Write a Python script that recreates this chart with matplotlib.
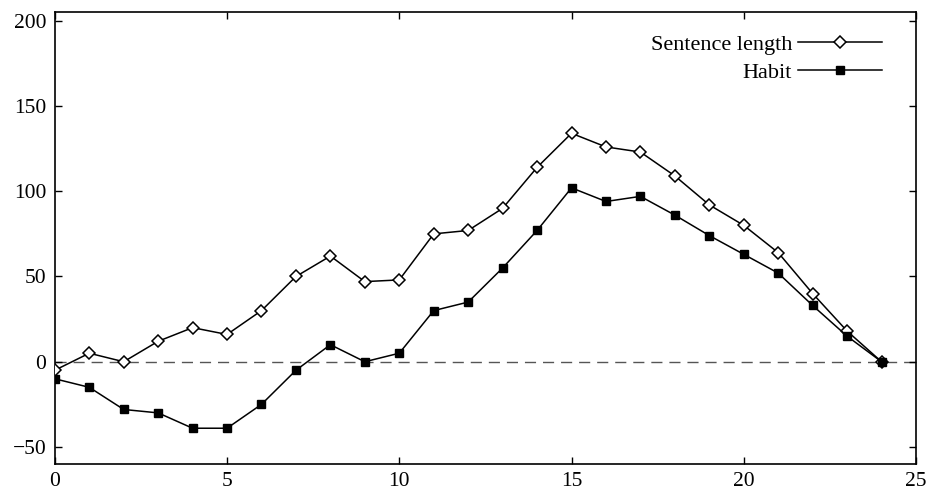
# -*- coding: utf-8 -*-

# load packages =============================================
import numpy as np
import matplotlib
matplotlib.use('Agg')
import matplotlib.pyplot as plt

# data =========================================================
x = np.arange(0, 25)
sentence_length = [-5, 5, 0, 12, 20, 16, 30, 50, 62, 47, 48, 75, 77, 90, 114,
                   134, 126, 123, 109, 92, 80, 64, 40, 18, 0]
habit = [-10, -15, -28, -30, -39, -39, -25, -5, 10, 0, 5, 30, 35, 55, 77,
         102, 94, 97, 86, 74, 63, 52, 33, 15, 0]

xticks = [0, 5, 10, 15, 20, 25]
yticks = [-50, 0, 50, 100, 150, 200]

# plot ======================================================
plt.rcParams['font.family'] = ['Liberation Serif', 'DejaVu Serif']
plt.rcParams['font.size'] = 15.5

fig = plt.figure(figsize=(9.29, 4.9), dpi=100)
ax = fig.add_axes([0.059, 0.053, 0.927, 0.922])

ax.axhline(0, color='#555555', linestyle=(0, (8, 5)), linewidth=1.0, zorder=1)

ax.plot(x, sentence_length, color='black', linewidth=1.1,
        marker='D', markersize=6, markerfacecolor='white',
        markeredgecolor='black', markeredgewidth=1.1, label='Sentence length', zorder=3)
ax.plot(x, habit, color='black', linewidth=1.1,
        marker='s', markersize=6, markerfacecolor='black',
        markeredgecolor='black', label='Habit', zorder=3)

ax.set_xlim(0, 25)
ax.set_ylim(-60, 205)
ax.set_xticks(xticks)
ax.set_yticks(yticks)
ax.set_yticklabels([str(t).replace('-', '\u2212') for t in yticks])
ax.tick_params(direction='in', top=True, right=True, length=5, width=1, pad=6)
for sp in ax.spines.values():
    sp.set_linewidth(1.2)

ax.legend(loc='upper right', bbox_to_anchor=(0.9605, 0.951), frameon=False,
          markerfirst=False, handlelength=3.8, handletextpad=0.25,
          labelspacing=0.35, borderpad=0, borderaxespad=0, fontsize=16)

fig.savefig('out.png', dpi=100)
